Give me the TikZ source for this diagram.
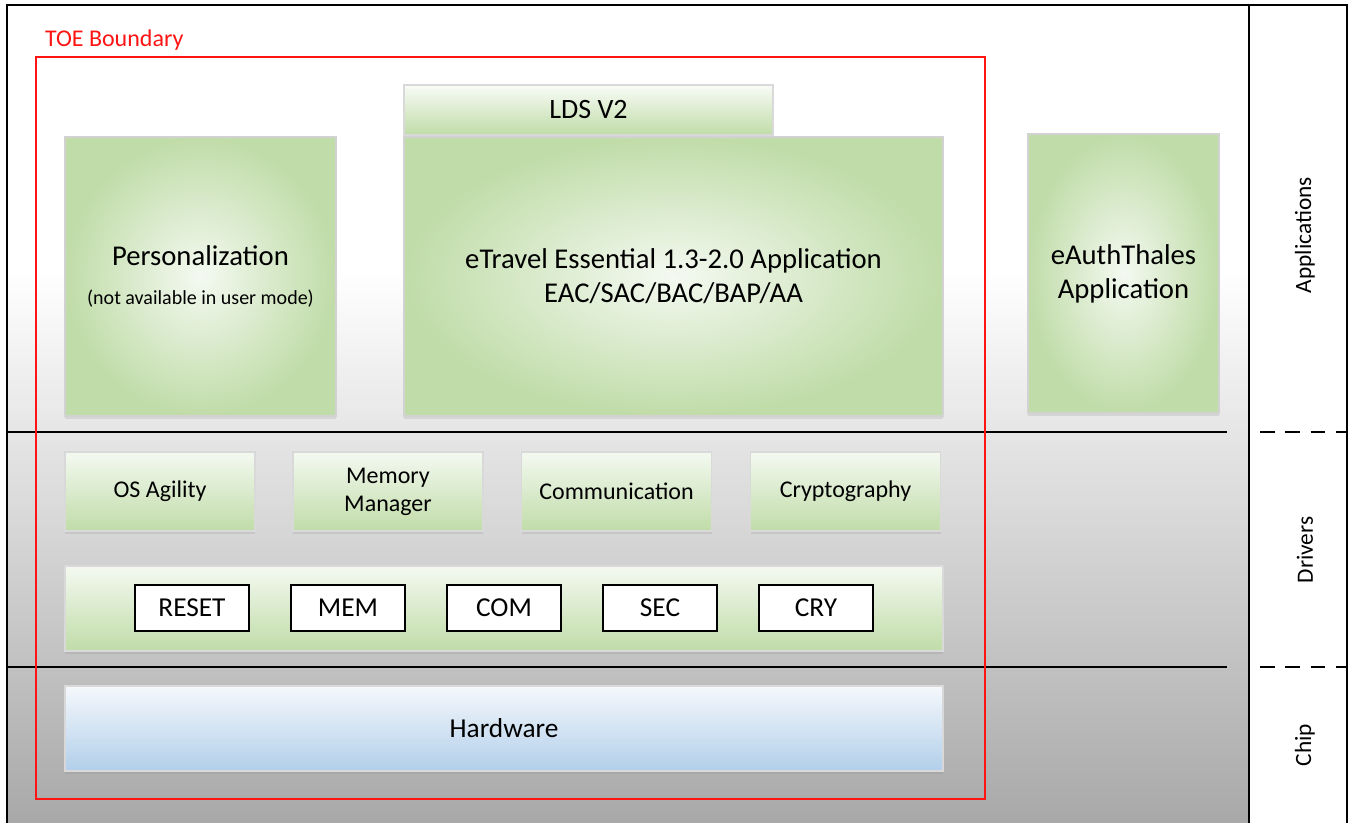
\documentclass[tikz,border=0pt]{standalone}
\usepackage{fontspec}
\setmainfont{Carlito}
\usepackage{xcolor}
\definecolor{toeRed}{RGB}{255,20,20}
\definecolor{appGreen}{RGB}{192,220,168}
\definecolor{appLight}{RGB}{244,249,241}
\definecolor{hwBlue}{RGB}{178,207,234}
\definecolor{hwLight}{RGB}{245,248,252}
\usepackage{tikz}
\usetikzlibrary{shadows}

\begin{document}
\begin{tikzpicture}[x=0.75pt, y=-0.75pt,
  every node/.style={inner sep=0pt, outer sep=0pt, align=center},
  appbox/.style={draw=gray!35, line width=0.8pt, shading=radial, inner color=appLight, outer color=appGreen,
    drop shadow={opacity=0.18, shadow xshift=0pt, shadow yshift=-2pt}, font=\fontsize{21.5}{25.5}\selectfont},
  modbox/.style={draw=gray!30, line width=0.8pt, top color=appLight, bottom color=appGreen,
    drop shadow={opacity=0.18, shadow xshift=0pt, shadow yshift=-2pt}, minimum width=142.5pt, minimum height=59.25pt,
    font=\fontsize{18}{21}\selectfont},
  drvbox/.style={draw=black, line width=1.1pt, fill=white, minimum width=85.5pt, minimum height=34.5pt,
    font=\fontsize{20.5}{24}\selectfont},
  sepline/.style={black, line width=1.5pt},
  layerlbl/.style={rotate=90, font=\fontsize{17.5}{21}\selectfont}]
  \useasboundingbox (0,0) rectangle (1355,823);

  % frame and background
  \fill[white] (7,5) rectangle (1347,840);
  \fill[top color=white, bottom color=black!35] (7,270) rectangle (1249,840);
  \draw[black, line width=1.5pt] (7,840) -- (7,5) -- (1347,5) -- (1347,840);
  \draw[black, line width=1.5pt] (1249,5) -- (1249,840);

  % layer separators
  \draw[sepline] (7,432) -- (1227,432);
  \draw[sepline] (7,667) -- (1227,667);
  \draw[sepline, dash pattern=on 11pt off 8pt] (1260,432) -- (1347,432);
  \draw[sepline, dash pattern=on 11pt off 8pt] (1260,667) -- (1347,667);

  % applications
  \node[appbox, minimum width=203.25pt, minimum height=209.25pt] (perso) at (200.5,276.5)
    {Personalization\\[4pt]{\fontsize{15}{18}\selectfont (not available in user mode)}};
  \node[modbox, top color=appLight!60!white, minimum width=276.75pt, minimum height=37.5pt,
    font=\fontsize{21}{25.5}\selectfont] (lds) at (588.5,110) {LDS V2};
  \node[appbox, minimum width=404.25pt, minimum height=209.25pt] (etravel) at (673.5,276.5)
    {eTravel Essential 1.3-2.0 Application\\EAC/SAC/BAC/BAP/AA};
  \node[appbox, minimum width=143.25pt, minimum height=209.25pt] (eauth) at (1123.5,273.5)
    {eAuthThales\\Application};

  % drivers
  \node[modbox] (osagility) at (160,491.5) {OS Agility};
  \node[modbox] (memmgr) at (388,491.5) {Memory\\Manager};
  \node[modbox] (comm) at (616.5,491.5) {Communication};
  \node[modbox] (crypto) at (845.5,491.5) {Cryptography};
  \node[modbox, minimum width=658.5pt, minimum height=63.75pt] (drvbar) at (504,608.5) {};
  \node[drvbox] (reset) at (192,608) {RESET};
  \node[drvbox] (mem) at (348,608) {MEM};
  \node[drvbox] (com) at (504,608) {COM};
  \node[drvbox] (sec) at (660,608) {SEC};
  \node[drvbox] (cry) at (816,608) {CRY};

  % chip
  \node[modbox, top color=hwLight, bottom color=hwBlue, minimum width=658.5pt, minimum height=63.75pt,
    font=\fontsize{20.5}{24}\selectfont] (hw) at (504,728.5) {Hardware};

  % TOE boundary
  \draw[toeRed, line width=1.1pt] (36,57) rectangle (985,799);
  \node[anchor=base west, text=toeRed, font=\fontsize{18}{21}\selectfont] (toe) at (45,47) {TOE Boundary};

  % layer labels
  \node[layerlbl] (lapp) at (1305,235) {Applications};
  \node[layerlbl] (ldrv) at (1305,550) {Drivers};
  \node[layerlbl] (lchip) at (1305,745) {Chip};
\end{tikzpicture}
\end{document}
